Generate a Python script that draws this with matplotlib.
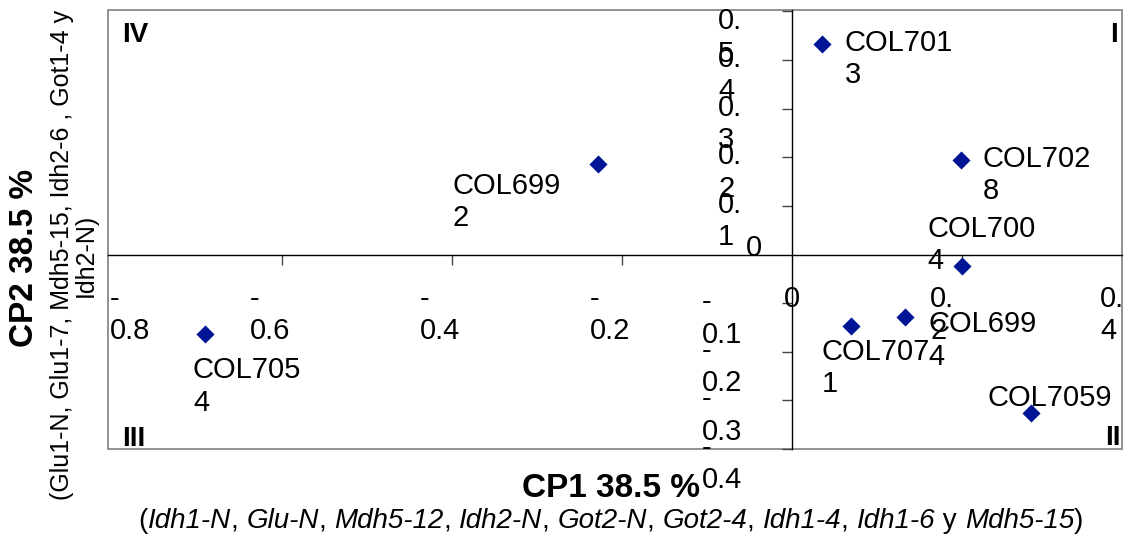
import matplotlib
matplotlib.use("Agg")
import matplotlib.pyplot as plt
from matplotlib.patches import Rectangle

plt.rcParams["font.family"] = ["Liberation Sans", "DejaVu Sans"]

# accession scores on the first two principal components
accessions = ["COL7013", "COL7028", "COL7004", "COL6992",
              "COL7054", "COL7071", "COL6994", "COL7059"]
cp1 = [0.035, 0.198, 0.200, -0.228, -0.691, 0.069, 0.133, 0.281]
cp2 = [0.433, 0.195, -0.023, 0.187, -0.164, -0.146, -0.129, -0.326]

x_ticks = [-0.8, -0.6, -0.4, -0.2, 0.0, 0.2, 0.4]
y_ticks = [0.5, 0.4, 0.3, 0.2, 0.1, 0.0, -0.1, -0.2, -0.3, -0.4]

quadrants = ["I", "II", "III", "IV"]
x_title = "CP1 38.5 %"
y_title = "CP2 38.5 %"
y_loci = "(Glu1-N, Glu1-7, Mdh5-15, Idh2-6 , Got1-4 y\nIdh2-N)"
# (text, italic?) pieces of the CP1 loci line
x_loci = [("(", False), ("Idh1-N", True), (", ", False), ("Glu-N", True),
          (", ", False), ("Mdh5-12", True), (", ", False), ("Idh2-N", True),
          (", ", False), ("Got2-N", True), (", ", False), ("Got2-4", True),
          (", ", False), ("Idh1-4", True), (", ", False), ("Idh1-6", True),
          (" y ", False), ("Mdh5-15", True), (")", False)]

# label offsets in pixels (left/top of the label relative to the marker)
label_offsets = {"COL7013": (23, 15), "COL7028": (22, 15), "COL7004": (-35, 51),
                 "COL6992": (-146, -8), "COL7054": (-12, -22), "COL7071": (-29, -12),
                 "COL6994": (23, 7), "COL7059": (-44, 29)}
no_wrap = {"COL7059"}

W, H = 1124, 536
FS = 21
fig = plt.figure(figsize=(W / 100, H / 100), dpi=100)
ax = fig.add_axes([108 / W, 1 - 449 / H, (1122 - 108) / W, (449 - 10) / H])
ax.set_xlim(-0.805, 0.388)
ax.set_ylim(-0.4, 0.503)

# axes through the origin, grey frame round the plot area
for s in ["top", "right"]:
    ax.spines[s].set_visible(False)
ax.spines["left"].set_position(("data", 0))
ax.spines["bottom"].set_position(("data", 0))
ax.spines["left"].set_linewidth(1.0)
ax.spines["bottom"].set_linewidth(1.0)
ax.add_patch(Rectangle((0, 0), 1, 1, transform=ax.transAxes, fill=False,
                       ec="#7f7f7f", lw=1.2, clip_on=False, zorder=1))
ax.set_xticks([t for t in x_ticks if -0.8 < t < 0.388 and t != 0])
ax.set_yticks([t for t in y_ticks if t != 0])
ax.tick_params(axis="both", direction="out", length=7, width=1, color="#444444",
               labelbottom=False, labelleft=False)


def wrap_num(v):
    s = f"{v:.1f}"
    if v == 0:
        return "0"
    if v < 0:
        return "-\n" + s[1:]
    return s[:2] + "\n" + s[2:]


# tick labels, placed the way the original wraps them
ax_left = ax.transData.transform((-0.805, 0))[0]
for v in x_ticks:
    px = ax.transData.transform((v, 0))[0]
    if v == 0:
        ax.annotate("0", (v, 0), xytext=(0, -30), textcoords="offset pixels",
                    ha="center", va="top", fontsize=FS, annotation_clip=False)
        continue
    dx = max(px - 32, ax_left + 2) - px
    ax.annotate(wrap_num(v), (v, 0), xytext=(dx, -30), textcoords="offset pixels",
                ha="left", va="top", multialignment="left", fontsize=FS,
                annotation_clip=False)

for v in y_ticks:
    if v == 0:
        ax.annotate("0", (0, v), xytext=(-30, 7), textcoords="offset pixels",
                    ha="right", va="center", fontsize=FS, annotation_clip=False)
        continue
    dy = 4 if v == 0.5 else 15
    ax.annotate(wrap_num(v), (0, v), xytext=(-50, dy), textcoords="offset pixels",
                ha="right", va="top", multialignment="left", fontsize=FS,
                annotation_clip=False)

ax.scatter(cp1, cp2, marker="D", s=85, color="#001496", zorder=3, linewidths=0)

for name, x, y in zip(accessions, cp1, cp2):
    txt = name if name in no_wrap else name[:6] + "\n" + name[6:]
    ax.annotate(txt, (x, y), xytext=label_offsets[name], textcoords="offset pixels",
                ha="left", va="top", multialignment="left", fontsize=FS, zorder=4)

# quadrant numbers
qpos = {"I": (1, 1, -4, -12, "right", "top"), "II": (1, 0, -1, 4, "right", "baseline"),
        "III": (0, 0, 14, 3, "left", "baseline"), "IV": (0, 1, 14, -12, "left", "top")}
for q in quadrants:
    ax_x, ax_y, dx, dy, ha, va = qpos[q]
    ax.annotate(q, (ax_x, ax_y), xycoords="axes fraction", xytext=(dx, dy),
                textcoords="offset pixels", ha=ha, va=va, fontsize=20,
                fontweight="bold")

# axis titles
fig.text(611 / W, 1 - 497 / H, x_title, ha="center", va="baseline",
         fontsize=24, fontweight="bold")
fig.text(25 / W, 1 - 258 / H, y_title, ha="center", va="center", rotation=90,
         fontsize=24, fontweight="bold")
fig.text(74 / W, 1 - 255 / H, y_loci, ha="center", va="center", rotation=90,
         multialignment="center", fontsize=18, linespacing=1.0)

# CP1 loci line: mixed italic / upright pieces chained one after another
pieces = []
prev = None
for s, it in x_loci:
    style = "italic" if it else "normal"
    if prev is None:
        t = fig.text(0, 1 - 528 / H, s, ha="left", va="baseline", fontsize=20,
                     fontstyle=style)
    else:
        t = ax.annotate(s, xy=(1, 0), xycoords=prev, ha="left", va="bottom",
                        fontsize=20, fontstyle=style, annotation_clip=False)
    pieces.append(t)
    prev = t
fig.canvas.draw()
r = fig.canvas.get_renderer()
x0 = pieces[0].get_window_extent(r).x0
x1 = pieces[-1].get_window_extent(r).x1
pieces[0].set_x((611 - (x1 - x0) / 2) / W)

fig.savefig("out.png", dpi=100)
